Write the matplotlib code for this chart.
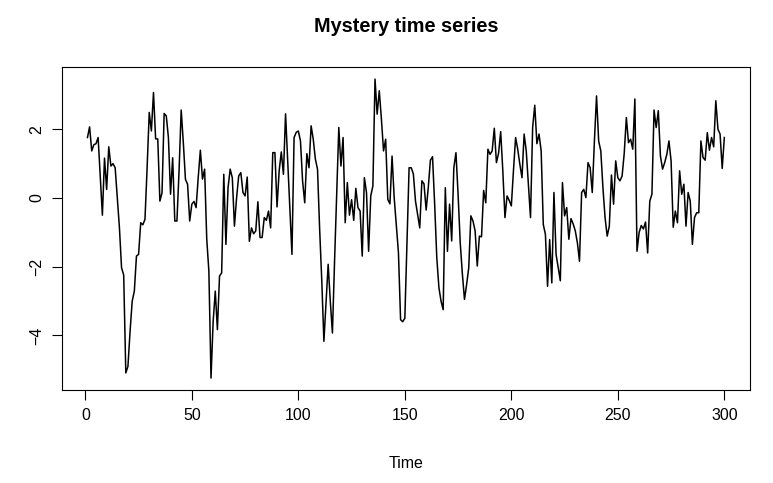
import numpy as np
import matplotlib
matplotlib.use("Agg")
import matplotlib.pyplot as plt

# values, t = 1..300
series = [
    1.76, 2.07, 1.37, 1.55, 1.58, 1.76, 0.6, -0.5, 1.16, 0.25,
    1.49, 0.93, 1.0, 0.88, 0.0, -0.86, -2.03, -2.24, -5.09, -4.9,
    -3.88, -3.0, -2.71, -1.69, -1.64, -0.72, -0.78, -0.62, 0.88, 2.49,
    1.95, 3.07, 1.72, 1.72, -0.09, 0.15, 2.46, 2.39, 1.76, 0.11,
    1.17, -0.67, -0.67, 0.79, 2.56, 1.61, 0.54, 0.40, -0.67, -0.18,
    -0.1, -0.28, 0.6, 1.39, 0.55, 0.84, -1.2, -2.13, -5.24, -3.6,
    -2.71, -3.83, -2.27, -2.18, 0.69, -1.35, 0.3, 0.84, 0.59, -0.82,
    0.0, 0.64, 0.74, 0.16, 0.06, 0.61, -1.26, -0.87, -1.04, -0.96,
    -0.11, -1.15, -1.15, -0.57, -0.65, -0.38, -0.87, 1.32, 1.32, -0.26,
    0.79, 1.34, 0.69, 2.45, 1.1, -0.3, -1.64, 1.76, 1.91, 1.95,
    1.66, 0.49, -0.14, 1.29, 0.88, 2.1, 1.71, 1.13, 0.84, -0.9,
    -2.4, -4.17, -3.05, -1.93, -3.0, -3.93, -1.85, 0.1, 2.05, 0.93,
    1.76, -0.72, 0.45, -0.5, -0.05, -0.65, 0.28, -0.28, -0.38, -1.69,
    0.59, 0.16, -1.55, 0.06, 0.35, 3.46, 2.44, 3.12, 2.3, 1.37,
    1.71, -0.04, -0.17, 1.22, 0.01, -0.77, -1.59, -3.54, -3.6, -3.5,
    -1.3, 0.88, 0.88, 0.7, -0.09, -0.48, -0.87, 0.5, 0.41, -0.35,
    0.3, 1.1, 1.2, -0.18, -1.74, -2.61, -3.0, -3.25, 0.3, -1.55,
    -0.18, -1.25, 0.88, 1.32, 0.1, -1.3, -2.2, -2.95, -2.52, -2.03,
    -0.52, -0.67, -0.96, -1.98, -1.11, -1.13, 0.22, -0.14, 1.42, 1.27,
    1.37, 2.03, 1.03, 1.3, 1.93, 0.79, -0.57, 0.06, -0.07, -0.23,
    0.8, 1.76, 1.42, 0.98, 0.59, 1.86, 1.37, 0.4, -0.57, 2.05,
    2.70, 1.58, 1.86, 1.37, -0.77, -1.06, -2.57, -1.21, -2.47, 0.16,
    -1.64, -2.03, -2.41, 0.45, -0.52, -0.28, -1.2, -0.6, -0.75, -0.95,
    -1.3, -1.84, 0.16, 0.25, 0.01, 1.03, 0.88, 0.16, 1.66, 2.97,
    1.66, 1.37, 0.3, -0.57, -1.11, -0.82, 0.67, -0.18, 1.08, 0.59,
    0.5, 0.64, 1.3, 2.34, 1.61, 1.71, 1.42, 2.88, -1.55, -1.0,
    -0.8, -0.9, -0.7, -1.6, -0.09, 0.11, 2.56, 2.05, 2.54, 1.22,
    0.84, 1.03, 1.27, 1.66, 1.08, -0.85, -0.38, -0.72, 0.79, 0.11,
    0.4, -0.82, 0.16, -0.09, -1.35, -0.57, -0.43, -0.43, 1.66, 1.18,
    1.1, 1.9, 1.39, 1.76, 1.49, 2.83, 2.0, 1.86, 0.86, 1.76,
]
time = np.arange(1, len(series) + 1)
x_ticks = [0, 50, 100, 150, 200, 250, 300]
y_ticks = [-4, -2, 0, 2]

plt.rcParams['font.family'] = ['Liberation Sans', 'DejaVu Sans']

fig = plt.figure(figsize=(7.73, 4.83), dpi=100)
ax = fig.add_axes([0.0802, 0.1925, 0.8898, 0.6685])

ax.plot(time, series, color='black', linewidth=1.1)

# R style axis ranges: 4% padding
xr = time.max() - time.min()
ax.set_xlim(time.min() - 0.04 * xr, time.max() + 0.04 * xr)
yr = max(series) - min(series)
ax.set_ylim(min(series) - 0.04 * yr, max(series) + 0.04 * yr)

ax.set_xticks(x_ticks)
ax.set_yticks(y_ticks)
ax.tick_params(direction='out', length=7, width=0.8, labelsize=11.5, pad=6)
for lab in ax.get_yticklabels():
    lab.set_rotation(90)
    lab.set_va('center')
for s in ax.spines.values():
    s.set_linewidth(0.8)

ax.set_title('Mystery time series', fontsize=14.3, fontweight='bold', pad=25)
ax.set_xlabel('Time', fontsize=11.5, labelpad=24)

fig.savefig('out.png', dpi=100)
